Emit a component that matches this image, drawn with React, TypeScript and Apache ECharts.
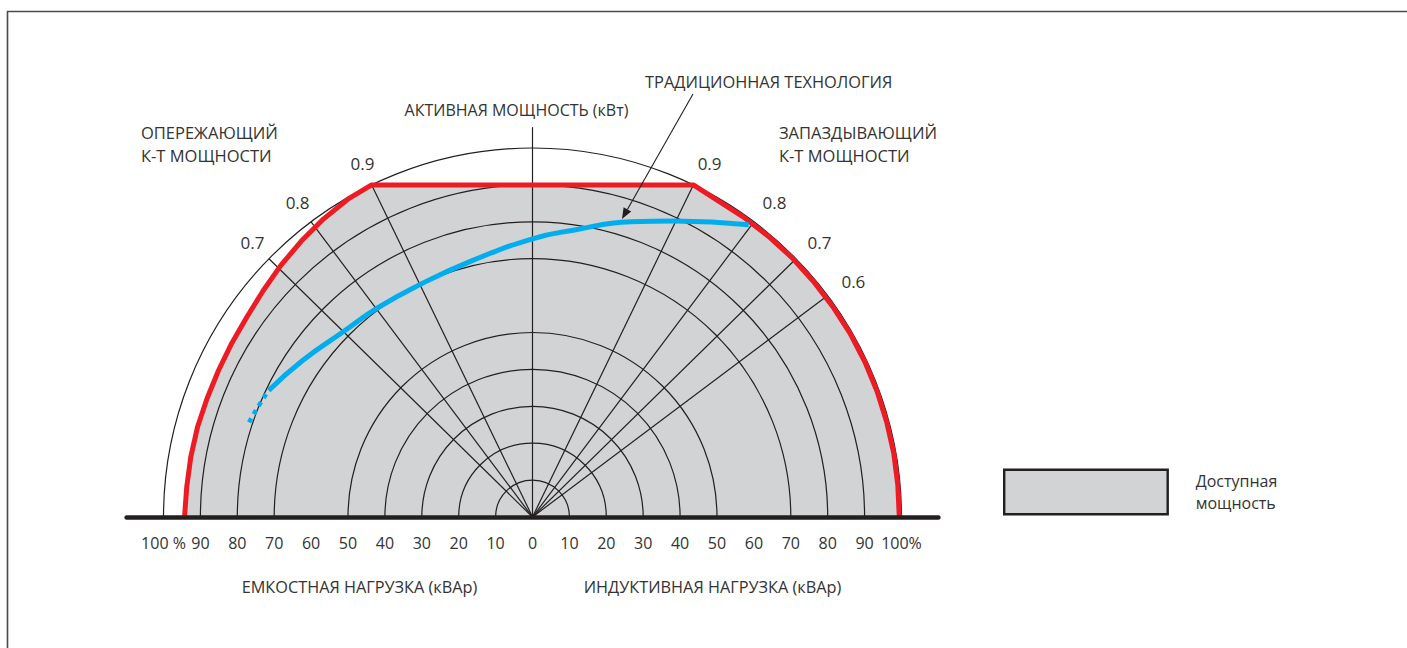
import React, { useEffect, useRef } from 'react';
import * as echarts from 'echarts';

// ---- data ----
// Q axis (reactive load, %), negative = capacitive (leading), positive = inductive (lagging)
const qTickValues = [-100, -90, -80, -70, -60, -50, -40, -30, -20, -10, 0, 10, 20, 30, 40, 50, 60, 70, 80, 90, 100];
// concentric grid circles (% of rated power); the 60 % circle is absent in the original
const circleRadii = [10, 20, 30, 40, 50, 70, 80, 90, 100];
// power-factor rays
const leadingPF = [0.9, 0.8, 0.7];
const laggingPF = [0.9, 0.8, 0.7, 0.6];
// available-power boundary
const capQ = [-94.3, -93.7, -92.6, -90.8, -88.2, -85.1, -81.5, -77.4, -73.0, -68.2, -62.7, -56.6, -49.8, -43.6,
  43.6, 49.7, 57.0, 63.9, 70.3, 76.1, 81.4, 86.1, 90.1, 93.4, 96.0, 97.9, 99.0, 99.4];
const capP = [0, 8.2, 16.3, 24.3, 32.1, 39.7, 47.1, 54.2, 61.3, 68.2, 74.7, 80.8, 86.3, 90,
  90, 86.1, 81.4, 76.1, 70.3, 63.9, 57.0, 49.7, 42.0, 34.0, 25.7, 17.3, 8.7, 0];
// traditional technology curve
const tradQ = [-71.5, -62.3, -51.3, -42.1, -31.1, -16.5, 0, 11.0, 26.6, 38.5, 58.6];
const tradP = [34.3, 42.4, 50.2, 56.6, 62.7, 69.4, 75.4, 77.7, 80.0, 80.2, 79.2];
const tradDotQ = [-72.2, -74.8, -77.4];
const tradDotP = [33.3, 29.2, 24.6];

const FONT = "'Open Sans', 'Noto Sans', sans-serif";
const TXT = '#333333';
const INK = '#231f20';

export default function App() {
  const ref = useRef<HTMLDivElement>(null);

  useEffect(() => {
    if (!ref.current) return;
    const chart = echarts.init(ref.current, null, { renderer: 'svg' });

    const capData = capQ.map((q, i) => [q, capP[i]]);
    const tradData = tradQ.map((q, i) => [q, tradP[i]]);
    const tradDotData = tradDotQ.map((q, i) => [q, tradDotP[i]]);
    const rays = [
      ...leadingPF.map((pf) => [-1, pf]),
      ...laggingPF.map((pf) => [1, pf]),
    ];

    const option: any = {
      animation: false,
      backgroundColor: '#ffffff',
      grid: {
        left: 126.6, top: 127.7, width: 811.8, height: 389.3,
        containLabel: false, outerBoundsMode: 'none',
      },
      xAxis: {
        type: 'value', min: -110, max: 110, interval: 10, z: 10,
        axisLine: { show: true, onZero: false, lineStyle: { color: INK, width: 4.5 } },
        axisTick: { show: false },
        splitLine: { show: false },
        axisLabel: {
          margin: 18, fontSize: 16, color: TXT, fontFamily: FONT,
          formatter: (v: number) => {
            if (qTickValues.indexOf(v) < 0) return '';
            if (v === -100) return '100 %';
            if (v === 100) return '100%';
            return String(Math.abs(v));
          },
        },
      },
      yAxis: {
        type: 'value', min: 0, max: 105.5, z: 2,
        name: 'АКТИВНАЯ МОЩНОСТЬ (кВт)',
        nameLocation: 'end', nameGap: 10,
        nameTextStyle: { fontSize: 16, color: TXT, fontFamily: FONT, padding: [0, 32, 0, 0] },
        axisLine: { show: true, onZero: true, lineStyle: { color: INK, width: 1.2 } },
        axisTick: { show: false }, axisLabel: { show: false }, splitLine: { show: false },
      },
      legend: {
        left: 1003, top: 468, padding: 0, itemWidth: 163.5, itemHeight: 44.5,
        selectedMode: false, orient: 'vertical',
        data: [{ name: 'Доступная мощность', icon: 'rect',
          itemStyle: { color: '#d1d3d4', borderColor: INK, borderWidth: 2.4 } }],
        formatter: () => 'Доступная\nмощность',
        textStyle: { fontSize: 16, color: TXT, fontFamily: FONT, lineHeight: 22, padding: [0, 0, 4, 23] },
      },
      graphic: [
        { type: 'polyline', silent: true, shape: { points: [[7.5, 660], [7.5, 11.5], [1420, 11.5]] },
          style: { fill: 'none', stroke: '#4a4a4a', lineWidth: 1.6 }, z: 0 },
        { type: 'text', x: 141, y: 143.5, style: { text: 'ОПЕРЕЖАЮЩИЙ\nК-Т МОЩНОСТИ', fontSize: 16.5, lineHeight: 23, fill: TXT, fontFamily: FONT, verticalAlign: 'middle' } },
        { type: 'text', x: 779, y: 143.5, style: { text: 'ЗАПАЗДЫВАЮЩИЙ\nК-Т МОЩНОСТИ', fontSize: 16.5, lineHeight: 23, fill: TXT, fontFamily: FONT, verticalAlign: 'middle' } },
        { type: 'text', x: 645, y: 81, style: { text: 'ТРАДИЦИОННАЯ ТЕХНОЛОГИЯ', fontSize: 16.4, fill: TXT, fontFamily: FONT, verticalAlign: 'middle' } },
        { type: 'text', x: 359.5, y: 587, style: { text: 'ЕМКОСТНАЯ НАГРУЗКА (кВАр)', fontSize: 16.3, fill: TXT, fontFamily: FONT, align: 'center', verticalAlign: 'middle' } },
        { type: 'text', x: 712.5, y: 587, style: { text: 'ИНДУКТИВНАЯ НАГРУЗКА (кВАр)', fontSize: 16.3, fill: TXT, fontFamily: FONT, align: 'center', verticalAlign: 'middle' } },
        { type: 'line', silent: true, z: 100, shape: { x1: 693, y1: 94, x2: 627.4, y2: 209.4 }, style: { stroke: INK, lineWidth: 1.1 } },
        { type: 'polygon', silent: true, z: 100, shape: { points: [[622, 219], [631.2, 211.6], [623.6, 207.2]] }, style: { fill: INK } },
      ],
      series: [
        {
          name: 'Доступная мощность', type: 'line', data: capData, z: 1, silent: true,
          symbol: 'none', lineStyle: { width: 0, opacity: 0 },
          areaStyle: { color: '#d1d3d4', opacity: 1 },
        },
        {
          name: 'circles', type: 'custom', z: 2, silent: true,
          data: circleRadii.map((r) => [r, 0]),
          renderItem: (params: any, api: any) => {
            const r = api.value(0);
            const c = api.coord([0, 0]);
            const e = api.coord([r, 0]);
            return {
              type: 'arc',
              shape: { cx: c[0], cy: c[1], r: e[0] - c[0], startAngle: Math.PI, endAngle: 2 * Math.PI, clockwise: true },
              style: { stroke: INK, lineWidth: 1.2, fill: null },
            };
          },
        },
        {
          name: 'rays', type: 'custom', z: 2, silent: true,
          data: rays,
          renderItem: (params: any, api: any) => {
            const side = api.value(0);
            const pf = api.value(1);
            const s = Math.sqrt(1 - pf * pf);
            const c = api.coord([0, 0]);
            const e = api.coord([side * 100 * s, 100 * pf]);
            const l = api.coord([side * 107 * s, 107 * pf]);
            return {
              type: 'group',
              children: [
                { type: 'line', shape: { x1: c[0], y1: c[1], x2: e[0], y2: e[1] }, style: { stroke: INK, lineWidth: 1.2 } },
                { type: 'text', x: l[0] + (side > 0 ? 5 : 2), y: l[1] + 1.5,
                  style: { text: String(pf), fontSize: 17, fontFamily: FONT, fill: TXT, align: 'center', verticalAlign: 'middle' } },
              ],
            };
          },
        },
        {
          name: 'boundary', type: 'line', data: capData, z: 3, silent: true,
          symbol: 'none', lineStyle: { color: '#ed1c24', width: 5, join: 'round' },
        },
        {
          name: 'Традиционная технология', type: 'line', data: tradData, z: 4, silent: true,
          symbol: 'none', smooth: true, lineStyle: { color: '#00aeef', width: 5, cap: 'butt' },
        },
        {
          name: 'Традиционная технология (экстраполяция)', type: 'line', data: tradDotData, z: 4, silent: true,
          symbol: 'none', lineStyle: { color: '#00aeef', width: 4.5, type: [4.5, 5], cap: 'butt' },
        },
      ],
    };

    chart.setOption(option);
    return () => chart.dispose();
  }, []);

  return <div ref={ref} style={{ position: 'fixed', left: 0, top: 0, width: '100vw', height: '100vh', overflow: 'hidden' }} />;
}
